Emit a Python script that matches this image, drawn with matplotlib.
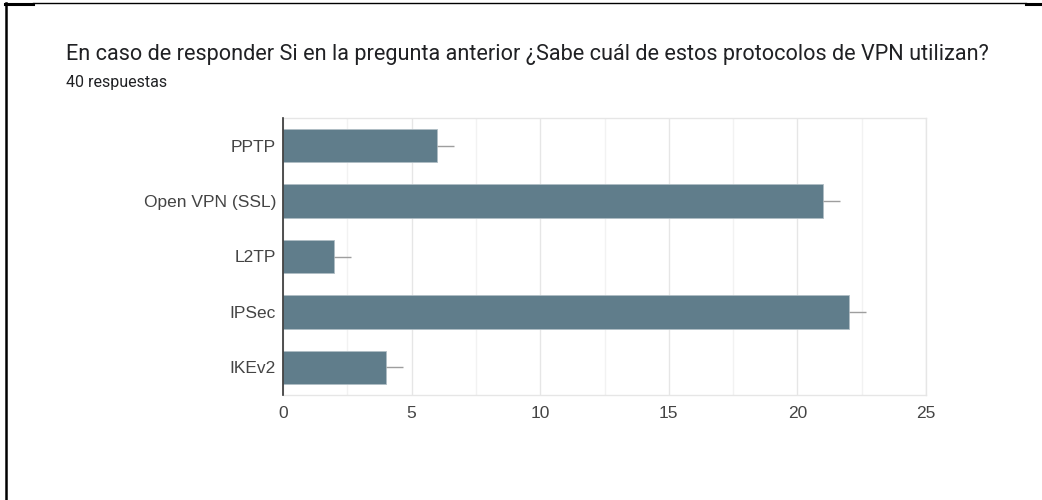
import matplotlib
matplotlib.use("Agg")
import matplotlib.pyplot as plt
from matplotlib.lines import Line2D
from matplotlib.ticker import MultipleLocator

protocols = ["PPTP", "Open VPN (SSL)", "L2TP", "IPSec", "IKEv2"]
counts = [6, 21, 2, 22, 4]
whisker = [0.65, 0.65, 0.65, 0.65, 0.65]

title = "En caso de responder Si en la pregunta anterior ¿Sabe cuál de estos protocolos de VPN utilizan?"
subtitle = "40 respuestas"

bar_color = "#607d8b"
text_color = "#444444"

fig = plt.figure(figsize=(10.42, 5.0), dpi=100)
fig.patch.set_facecolor("white")

# page border pieces
fig.add_artist(Line2D([0.0055, 0.0055], [0.0, 0.994], color="black", lw=1.8))
fig.add_artist(Line2D([0.005, 0.032], [0.993, 0.993], color="black", lw=2.2))
fig.add_artist(Line2D([0.032, 0.985], [0.994, 0.994], color="black", lw=1.0))
fig.add_artist(Line2D([0.985, 1.0], [0.993, 0.993], color="black", lw=2.2))

fig.text(66 / 1042, 1 - 60 / 500, title, fontsize=15.6, family="Roboto",
         color="#202124", va="baseline", ha="left")
fig.text(66 / 1042, 1 - 87 / 500, subtitle, fontsize=11.5, family="Roboto",
         color="#202124", va="baseline", ha="left")

ax = fig.add_axes([283 / 1042, 1 - 395 / 500, (926 - 283) / 1042, (395 - 118) / 500])
y = list(range(len(protocols)))
ax.barh(y, counts, height=0.6, color=bar_color, edgecolor="#b0bec5",
        linewidth=0.6, zorder=3)
ax.errorbar(counts, y, xerr=[[0] * len(counts), whisker], fmt="none",
            ecolor="#9e9e9e", elinewidth=1.0, capsize=0, zorder=4)

ax.set_xlim(0, 25)
ax.set_ylim(len(protocols) - 0.5, -0.5)
ax.set_yticks(y)
ax.set_yticklabels(protocols)
ax.xaxis.set_major_locator(MultipleLocator(5))
ax.xaxis.set_minor_locator(MultipleLocator(2.5))
ax.grid(axis="x", which="major", color="#e6e6e6", lw=1.0, zorder=0)
ax.grid(axis="x", which="minor", color="#f2f2f2", lw=1.0, zorder=0)

for side in ("top", "right", "bottom"):
    ax.spines[side].set_color("#e6e6e6")
    ax.spines[side].set_linewidth(1.0)
ax.spines["left"].set_color("#333333")
ax.spines["left"].set_linewidth(1.2)
ax.spines["left"].set_zorder(5)

ax.tick_params(axis="both", which="both", length=0, labelsize=12.5,
               labelcolor=text_color)
ax.tick_params(axis="x", pad=8)
ax.tick_params(axis="y", pad=5)
for lab in ax.get_xticklabels() + ax.get_yticklabels():
    lab.set_family("Liberation Sans")
    lab.set_color(text_color)

fig.savefig("out.png", dpi=100, facecolor="white")
